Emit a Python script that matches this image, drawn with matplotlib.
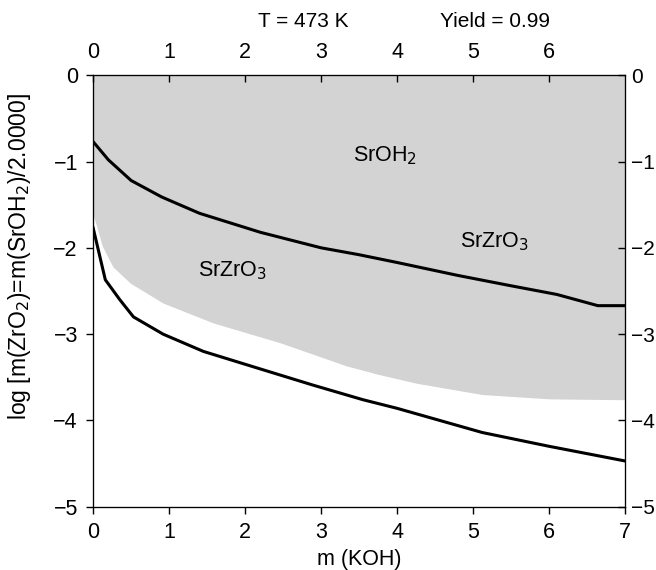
import matplotlib
matplotlib.use("Agg")
import matplotlib.pyplot as plt

plt.rcParams['font.family'] = ['Liberation Sans', 'DejaVu Sans']

# upper boundary curve (SrOH2 / SrZrO3)
upper_m = [0.0, 0.2, 0.5, 0.9, 1.4, 2.2, 3.0, 3.5, 4.0, 4.8, 5.5, 6.1, 6.64, 7.0]
upper_y = [-0.77, -0.98, -1.22, -1.41, -1.60, -1.82, -2.0, -2.08, -2.17, -2.32, -2.44, -2.54, -2.67, -2.67]

# lower boundary curve
lower_m = [0.0, 0.16, 0.35, 0.53, 0.92, 1.45, 2.15, 2.89, 3.55, 4.0, 5.12, 6.0, 7.0]
lower_y = [-1.77, -2.37, -2.60, -2.80, -3.00, -3.20, -3.39, -3.59, -3.76, -3.86, -4.14, -4.30, -4.47]

# bottom edge of the shaded (yield) region
shade_m = [0.0, 0.05, 0.12, 0.26, 0.49, 0.92, 1.58, 2.46, 3.34, 3.77, 4.26, 5.12, 6.0, 7.0]
shade_y = [-1.62, -1.76, -1.98, -2.22, -2.41, -2.64, -2.87, -3.10, -3.37, -3.47, -3.57, -3.70, -3.75, -3.76]

fig = plt.figure(figsize=(6.56, 5.70), dpi=100)
ax = fig.add_axes([0.142, 0.111, 0.811, 0.757])

ax.fill_between(shade_m, shade_y, 0, color='#d3d3d3', lw=0)
ax.plot(upper_m, upper_y, color='black', lw=2.2)
ax.plot(lower_m, lower_y, color='black', lw=2.2)

ax.set_xlim(0, 7)
ax.set_ylim(-5, 0)
ax.set_xticks(range(0, 8))
ax.set_yticks(range(-5, 1))
ax.tick_params(axis='x', labelsize=15.5, direction='out', length=5, width=1, pad=6)
ax.tick_params(axis='y', labelsize=15.5, direction='out', length=5, width=1, pad=6)
ax.set_xlabel("m (KOH)", fontsize=15.5, labelpad=4)
ax.set_ylabel("log [m(ZrO$_2$)=m(SrOH$_2$)/2.0000]", fontsize=16.5)
ax.yaxis.set_label_coords(-0.113, 0.58)

top = ax.twiny()
top.set_xlim(0, 7)
top.set_xticks(range(0, 7))
top.tick_params(labelsize=15.5, direction='in', length=5, width=1, pad=9)

right = ax.twinx()
right.set_ylim(-5, 0)
right.set_yticks(range(-5, 1))
right.tick_params(labelsize=15, direction='in', length=5, width=1, pad=4)

ax.text(3.84, -0.93, "SrOH$_2$", fontsize=15.5, ha='center', va='center')
ax.text(5.28, -1.93, "SrZrO$_3$", fontsize=15.5, ha='center', va='center')
ax.text(1.83, -2.26, "SrZrO$_3$", fontsize=15.5, ha='center', va='center')

fig.text(0.462, 0.962, "T = 473 K", fontsize=15, ha='center', va='center')
fig.text(0.755, 0.962, "Yield = 0.99", fontsize=15, ha='center', va='center')

fig.savefig("out.png", dpi=100)
